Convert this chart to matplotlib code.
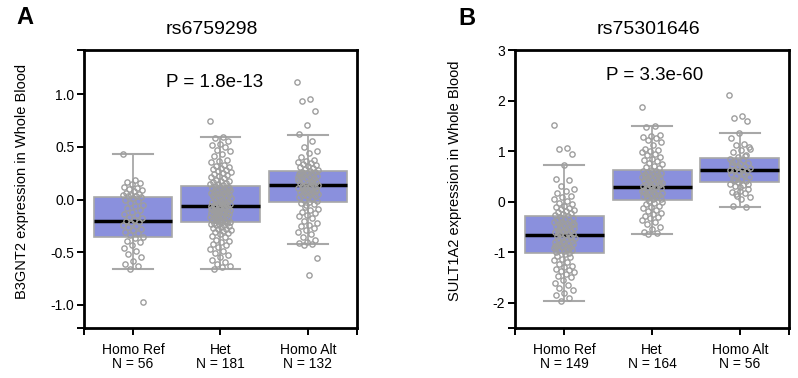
import numpy as np
import matplotlib.pyplot as plt

plt.rcParams['font.family'] = ['Liberation Sans', 'DejaVu Sans']
plt.rcParams['axes.unicode_minus'] = False

# panel A: rs6759298 / B3GNT2
a_labels = ["Homo Ref\nN = 56", "Het\nN = 181", "Homo Alt\nN = 132"]
a_ref = [0.43, 0.19, 0.17, 0.16, 0.15, 0.12, 0.11, 0.10, 0.09, 0.08, 0.06, 0.05,
         0.04, 0.04, 0.03, 0.03, 0.02, 0.01, 0.00, -0.01, -0.03, -0.05, -0.06,
         -0.08, -0.10, -0.12, -0.14, -0.15, -0.17, -0.18, -0.19, -0.20, -0.21,
         -0.22, -0.24, -0.25, -0.26, -0.28, -0.29, -0.31, -0.32, -0.34, -0.36,
         -0.37, -0.39, -0.40, -0.43, -0.46, -0.49, -0.52, -0.55, -0.58, -0.61,
         -0.63, -0.66, -0.97]
a_het = [0.75, 0.59, 0.58, 0.56, 0.53, 0.52, 0.50, 0.47, 0.46, 0.43, 0.41, 0.38,
         0.37, 0.36, 0.33, 0.32, 0.31, 0.30, 0.29, 0.28, 0.27, 0.26, 0.25, 0.24,
         0.23, 0.22, 0.21, 0.20, 0.19, 0.18, 0.18, 0.17, 0.16, 0.15, 0.15, 0.14,
         0.13, 0.12, 0.12, 0.11, 0.10, 0.10, 0.09, 0.08, 0.08, 0.07, 0.06, 0.06,
         0.05, 0.05, 0.04, 0.03, 0.03, 0.02, 0.02, 0.01, 0.00, 0.00, -0.01, -0.01,
         -0.02, -0.03, -0.03, -0.04, -0.04, -0.05, -0.05, -0.06, -0.06, -0.07,
         -0.07, -0.08, -0.08, -0.09, -0.09, -0.10, -0.10, -0.11, -0.11, -0.12,
         -0.12, -0.13, -0.13, -0.14, -0.14, -0.15, -0.15, -0.16, -0.16, -0.17,
         -0.17, -0.18, -0.18, -0.19, -0.19, -0.20, -0.20, -0.21, -0.21, -0.22,
         -0.22, -0.23, -0.23, -0.24, -0.24, -0.25, -0.26, -0.27, -0.28, -0.28,
         -0.29, -0.30, -0.31, -0.32, -0.33, -0.35, -0.36, -0.38, -0.39, -0.40,
         -0.42, -0.43, -0.45, -0.47, -0.49, -0.51, -0.53, -0.55, -0.57, -0.59,
         -0.61, -0.63, -0.64, -0.66, 0.01, -0.04, -0.09, 0.06, -0.13, 0.11,
         -0.02, 0.04, -0.07, -0.18]
a_alt = [1.12, 0.95, 0.94, 0.84, 0.71, 0.62, 0.56, 0.50, 0.46, 0.44, 0.40, 0.38,
         0.37, 0.36, 0.35, 0.34, 0.33, 0.32, 0.31, 0.30, 0.29, 0.28, 0.27, 0.26,
         0.26, 0.25, 0.24, 0.24, 0.23, 0.22, 0.22, 0.21, 0.20, 0.20, 0.19, 0.18,
         0.18, 0.17, 0.16, 0.16, 0.15, 0.14, 0.14, 0.13, 0.13, 0.12, 0.11, 0.11,
         0.10, 0.09, 0.09, 0.08, 0.07, 0.07, 0.06, 0.05, 0.05, 0.04, 0.03, 0.03,
         0.02, 0.01, 0.00, -0.01, -0.02, -0.03, -0.04, -0.05, 0.21, 0.17, 0.12,
         0.08, 0.02, 0.25, 0.19, -0.07, -0.09, -0.10, -0.12, -0.13, -0.15, -0.16,
         -0.18, -0.20, -0.22, -0.24, -0.25, -0.27, -0.29, -0.31, -0.33, -0.36,
         -0.38, -0.40, -0.41, -0.42, -0.43, -0.56, -0.72]
a_q1 = [-0.355, -0.21, -0.025]
a_med = [-0.205, -0.063, 0.135]
a_q3 = [0.02, 0.13, 0.27]
a_lo = [-0.66, -0.657, -0.427]
a_hi = [0.437, 0.594, 0.616]
a_yticks = [-1.0, -0.5, 0.0, 0.5, 1.0]

# panel B: rs75301646 / SULT1A2
b_labels = ["Homo Ref\nN = 149", "Het\nN = 164", "Homo Alt\nN = 56"]
b_ref = [1.52, 1.06, 1.05, 0.94, 0.72, 0.45, 0.42, 0.30, 0.25, 0.22, 0.18, 0.12,
         0.10, 0.05, 0.02, -0.02, -0.05, -0.08, -0.10, -0.12, -0.15, -0.17,
         -0.19, -0.21, -0.23, -0.25, -0.27, -0.29, -0.31, -0.33, -0.35, -0.36,
         -0.38, -0.40, -0.41, -0.43, -0.44, -0.46, -0.47, -0.49, -0.50, -0.52,
         -0.53, -0.55, -0.56, -0.58, -0.59, -0.61, -0.62, -0.64, -0.65, -0.66,
         -0.68, -0.69, -0.71, -0.72, -0.74, -0.75, -0.77, -0.78, -0.80, -0.81,
         -0.83, -0.84, -0.86, -0.87, -0.89, -0.90, -0.92, -0.93, -0.95, -0.96,
         -0.98, -0.99, -1.01, -0.34, -0.45, -0.57, -0.63, -0.70, -0.79, -0.88,
         -0.94, -0.51, -0.42, -1.04, -1.07, -1.10, -1.13, -1.16, -1.20, -1.24,
         -1.27, -1.30, -1.33, -1.36, -1.38, -1.40, -1.43, -1.47, -1.50, -1.55,
         -1.60, -1.65, -1.70, -1.75, -1.80, -1.85, -1.90, -1.96]
b_het = [1.88, 1.50, 1.47, 1.32, 1.30, 1.28, 1.25, 1.22, 1.18, 1.12, 1.05, 1.02,
         1.00, 0.98, 0.95, 0.92, 0.88, 0.85, 0.82, 0.80, 0.76, 0.74, 0.71, 0.68,
         0.66, 0.63, 0.61, 0.60, 0.58, 0.57, 0.55, 0.54, 0.52, 0.51, 0.49, 0.48,
         0.46, 0.45, 0.43, 0.42, 0.40, 0.39, 0.37, 0.36, 0.34, 0.33, 0.31, 0.30,
         0.29, 0.27, 0.26, 0.24, 0.23, 0.21, 0.20, 0.18, 0.17, 0.15, 0.14, 0.12,
         0.11, 0.09, 0.08, 0.06, 0.05, 0.50, 0.41, 0.32, 0.22, 0.16, 0.10, 0.35,
         0.28, 0.19, 0.56, 0.02, 0.00, -0.02, -0.05, -0.08, -0.10, -0.13, -0.16,
         -0.19, -0.22, -0.25, -0.28, -0.30, -0.33, -0.36, -0.40, -0.45, -0.50,
         -0.55, -0.60, -0.62, -0.65]
b_alt = [2.10, 1.70, 1.65, 1.60, 1.35, 1.25, 1.15, 1.12, 1.08, 1.02, 0.98, 0.92,
         0.88, 0.85, 0.82, 0.80, 0.76, 0.74, 0.72, 0.70, 0.68, 0.66, 0.64, 0.62,
         0.60, 0.58, 0.55, 0.52, 0.50, 0.48, 0.45, 0.43, 0.40, 0.38, 0.35, 0.33,
         0.30, 0.25, 0.22, 0.20, 0.18, 0.15, 0.10, 0.06, -0.08, -0.10, 0.70, 0.62,
         0.57, 0.42, 0.35, 0.28, 0.78, 0.90, 0.12, 1.05]
b_q1 = [-1.02, 0.04, 0.38]
b_med = [-0.67, 0.29, 0.63]
b_q3 = [-0.28, 0.634, 0.865]
b_lo = [-1.96, -0.65, -0.10]
b_hi = [0.72, 1.50, 1.35]
b_yticks = [-2, -1, 0, 1, 2, 3]

BOX_COLOR = '#8A90DD'
GREY = '#A8A8A8'


def draw_panel(ax, labels, groups, q1, med, q3, lo, hi, ylim, yticks, fmt):
    stats = []
    for i in range(len(groups)):
        stats.append(dict(q1=q1[i], med=med[i], q3=q3[i], whislo=lo[i], whishi=hi[i]))
    ax.bxp(stats, positions=range(len(groups)), widths=0.9, capwidths=0.45,
           patch_artist=True, showfliers=False,
           boxprops=dict(facecolor=BOX_COLOR, edgecolor=GREY, linewidth=1.2),
           whiskerprops=dict(color=GREY, linewidth=1.3),
           capprops=dict(color=GREY, linewidth=1.5),
           medianprops=dict(color='black', linewidth=2.5, solid_capstyle='butt'),
           zorder=2)
    for i, vals in enumerate(groups):
        vals = np.asarray(vals)
        # small fixed spread so points do not sit on one line
        jitter = ((np.arange(len(vals)) * 0.618034) % 1.0 - 0.5) * 0.24
        ax.plot(i + jitter, vals, 'o', markersize=3.8, markerfacecolor='none',
                markeredgecolor='#9E9E9E', markeredgewidth=1.0, zorder=3)

    xlim = (-0.56, 2.56)
    ax.set_xlim(xlim)
    ax.set_ylim(ylim)
    ax.set_xticks(range(len(groups)))
    ax.set_xticklabels(labels, fontsize=10, linespacing=1.0)
    ax.set_xticks(xlim, minor=True)
    ax.set_yticks(yticks)
    ax.set_yticklabels([fmt.format(t) for t in yticks], fontsize=10)
    ax.set_yticks(ylim, minor=True)
    ax.tick_params(which='both', direction='out', length=5, width=1.4, pad=2)
    ax.tick_params(axis='x', pad=6)
    for s in ax.spines.values():
        s.set_linewidth(2.0)


fig = plt.figure(figsize=(7.98, 3.78), dpi=100)
ax_a = fig.add_axes([0.1053, 0.1323, 0.342, 0.7354])
ax_b = fig.add_axes([0.6454, 0.1323, 0.3434, 0.7354])

draw_panel(ax_a, a_labels, [a_ref, a_het, a_alt], a_q1, a_med, a_q3, a_lo, a_hi,
           (-1.22, 1.42), a_yticks, '{:.1f}')
draw_panel(ax_b, b_labels, [b_ref, b_het, b_alt], b_q1, b_med, b_q3, b_lo, b_hi,
           (-2.5, 3.0), b_yticks, '{:d}')

fig.text(0.031, 0.955, 'A', fontsize=17, fontweight='bold', ha='center', va='center')
fig.text(0.585, 0.952, 'B', fontsize=17, fontweight='bold', ha='center', va='center')
fig.text(0.266, 0.921, 'rs6759298', fontsize=14, ha='center', va='center')
fig.text(0.813, 0.921, 'rs75301646', fontsize=14, ha='center', va='center')
fig.text(0.269, 0.783, 'P = 1.8e-13', fontsize=13.5, ha='center', va='center')
fig.text(0.820, 0.799, 'P = 3.3e-60', fontsize=13.5, ha='center', va='center')
fig.text(0.028, 0.521, 'B3GNT2 expression in Whole Blood', fontsize=10.5,
         rotation=90, ha='center', va='center')
fig.text(0.570, 0.521, 'SULT1A2 expression in Whole Blood', fontsize=10.5,
         rotation=90, ha='center', va='center')

fig.savefig('out.png', dpi=100)
